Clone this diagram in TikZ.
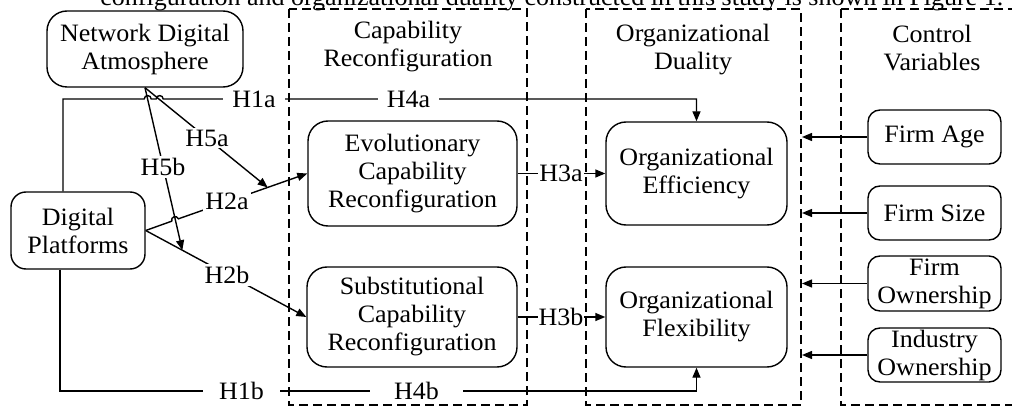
\documentclass[tikz,border=0pt]{standalone}
\usepackage{fontspec}
\setmainfont{Liberation Serif}[FakeStretch=1.04]
\usetikzlibrary{arrows.meta}
\begin{document}
\begin{tikzpicture}[x=1pt,y=-1pt, line width=1.4pt,
  font=\fontsize{25}{28}\selectfont,
  box/.style={draw, rounded corners=20pt, align=center, inner sep=0pt},
  cbox/.style={box, rounded corners=12pt, minimum width=133pt, minimum height=54pt},
  grp/.style={draw, dash pattern=on 9pt off 5pt},
  ttl/.style={align=center, inner sep=0pt},
  lab/.style={fill=white, inner sep=2pt},
  arr/.style={-{Triangle[length=10pt,width=8pt]}}]
\useasboundingbox (0,0) rectangle (1012,406);
\clip (0,0) rectangle (1012,406);

% partially visible sentence at the top
\node[anchor=base east, inner sep=0pt] (sent) at (1004,5.5) {configuration and organizational duality constructed in this study is shown in Figure 1.};

% dashed groups
\draw[grp] (289,9) rectangle (527,405);
\draw[grp] (586,9) rectangle (801,405);
\draw[grp] (841,9) rectangle (1030,405);

% titles
\node[ttl] (t1) at (408,47) {Capability\\Reconfiguration};
\node[ttl] (t2) at (693,50) {Organizational\\Duality};
\node[ttl] (t3) at (932,48) {Control\\Variables};

% boxes
\node[box, minimum width=196pt, minimum height=76pt] (nda) at (145,49) {Network Digital\\Atmosphere};
\node[box, rounded corners=15pt, minimum width=134pt, minimum height=77pt] (dp) at (78,230.5) {Digital\\Platforms};
\node[box, minimum width=209pt, minimum height=105pt] (ev) at (412.5,173.5) {Evolutionary\\Capability\\Reconfiguration};
\node[box, minimum width=210pt, minimum height=100pt] (sb) at (412,317) {Substitutional\\Capability\\Reconfiguration};
\node[box, minimum width=181pt, minimum height=103pt] (oe) at (696.5,173.5) {Organizational\\Efficiency};
\node[box, minimum width=181pt, minimum height=100pt] (of) at (696.5,317) {Organizational\\Flexibility};
\node[cbox] (fa) at (934.5,137) {Firm Age};
\node[cbox] (fs) at (934.5,213) {Firm Size};
\node[cbox, minimum height=55pt] (fo) at (934.5,283.5) {Firm\\Ownership};
\node[cbox] (io) at (934.5,355) {Industry\\Ownership};

% control arrows
\coordinate (cvx) at (802,0);
\draw[arr] (fa.west) -- (fa.west -| cvx);
\draw[arr] (fs.west) -- (fs.west -| cvx);
\draw[arr] (fo.west) -- (fo.west -| cvx);
\draw[arr] (io.west) -- (io.west -| cvx);

% H1a / H4a
\coordinate (ha) at (63,99);
\draw[arr] (dp.north -| ha) -- (ha) -- (144.2,99)
  .. controls (144.2,94.5) and (151.2,94.5) .. (151.2,99) -- (156.2,99)
  .. controls (156.2,94.5) and (163.2,94.5) .. (163.2,99)
  -- (ha -| oe.north) -- (oe.north);
% H1b / H4b
\coordinate (hb) at (60,391);
\draw[arr] (dp.south -| hb) -- (hb) -- (hb -| of.south) -- (of.south);

% H2a with line jump, H2b
\draw[arr] (dp.east) -- (171.77,221.16)
  .. controls (170.28,216.9) and (176.88,214.6) .. (178.37,218.84) -- (ev.west);
\draw[arr] (dp.east) -- (sb.west);

% moderation targets
\path (dp.east) -- (ev.west) coordinate[pos=0.755] (t5a);
\path (dp.east) -- (sb.west) coordinate[pos=0.228] (t5b);
\draw[arr] (nda.south) -- (t5a);
\draw[arr] (nda.south) -- (t5b);

% H3a, H3b
\draw[arr] (ev.east) -- (ev.east -| oe.west);
\draw[arr] (sb.east) -- (sb.east -| of.west);

% labels
\node[lab, inner xsep=9pt] (l1a) at (254,99) {H1a};
\node[lab, inner xsep=9pt] (l4a) at (408.5,99) {H4a};
\node[lab, inner xsep=16pt] (l1b) at (241.5,391) {H1b};
\node[lab, inner xsep=24pt] (l4b) at (416.5,391) {H4b};
\node[lab] (l2a) at (227,201) {H2a};
\node[lab] (l2b) at (227,275) {H2b};
\node[lab] (l5a) at (207,138) {H5a};
\node[lab] (l5b) at (163,167) {H5b};
\node[lab, inner sep=1pt] (l3a) at (561,173.5) {H3a};
\node[lab, inner sep=1pt] (l3b) at (561,317) {H3b};
\end{tikzpicture}
\end{document}
